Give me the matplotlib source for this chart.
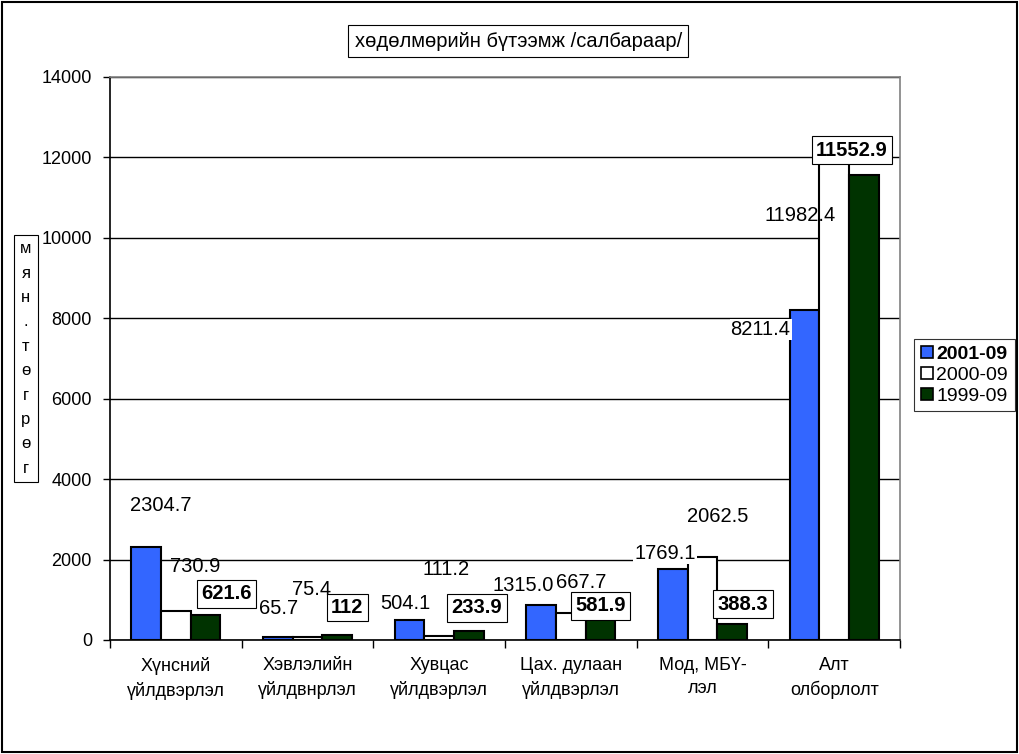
import matplotlib
matplotlib.use('Agg')
import matplotlib.pyplot as plt
import numpy as np
from matplotlib.patches import Rectangle, Patch

plt.rcParams['font.family'] = ['Liberation Sans', 'DejaVu Sans']

# Data
categories = ["Хүнсний\nүйлдвэрлэл", "Хэвлэлийн\nүйлдвнрлэл", "Хувцас\nүйлдвэрлэл",
              "Цах. дулаан\nүйлдвэрлэл", "Мод, МБҮ-\nлэл", "Алт\nолборлолт"]
series_names = ["2001-09", "2000-09", "1999-09"]
vals_2001 = [2304.7, 65.7, 504.1, 880.0, 1769.1, 8211.4]
vals_2000 = [730.9, 75.4, 111.2, 667.7, 2062.5, 11982.4]
vals_1999 = [621.6, 112.0, 233.9, 581.9, 388.3, 11552.9]
# text shown in the data labels
labels_2001 = ["2304.7", "65.7", "504.1", "1315.0", "1769.1", "8211.4"]
labels_2000 = ["730.9", "75.4", "111.2", "667.7", "2062.5", "11982.4"]
labels_1999 = ["621.6", "112", "233.9", "581.9", "388.3", "11552.9"]

# label offsets (pixels) from bar top centre, as the labels were dragged in the original
offs_2001 = [(14, 42), (1, 29), (-4, 16), (-18, 19), (-8, 15), (-44, -20)]
offs_2000 = [(19, 44), (4, 47), (7, 66), (10, 31), (15, 41), (-34, -57)]
offs_1999 = [(21, 21), (10, 28), (8, 23), (0, 11), (11, 20), (-12, 25)]

colors = ['#3366FF', '#FFFFFF', '#003300']

fig = plt.figure(figsize=(10.19, 7.54), dpi=100)
ax = fig.add_axes([0.108, 0.1512, 0.7753, 0.7467])

x = np.arange(len(categories))
w = 0.225
all_vals = [vals_2001, vals_2000, vals_1999]
all_labels = [labels_2001, labels_2000, labels_1999]
all_offs = [offs_2001, offs_2000, offs_1999]

for k in range(3):
    xs = x + (k - 1) * w
    ax.bar(xs, all_vals[k], width=w, color=colors[k], edgecolor='black',
           linewidth=1.5, zorder=3)
    for i in range(len(categories)):
        dx, dy = all_offs[k][i]
        if k == 2:
            kw = dict(fontweight='bold',
                      bbox=dict(boxstyle='square,pad=0.22', facecolor='white',
                                edgecolor='black', linewidth=0.8))
        elif k == 0:
            kw = dict(bbox=dict(boxstyle='square,pad=0.05', facecolor='white',
                                edgecolor='none'))
        else:
            kw = {}
        ax.annotate(all_labels[k][i], xy=(xs[i], all_vals[k][i]),
                    xytext=(dx, dy), textcoords='offset pixels',
                    ha='center', va='center', fontsize=14.5, zorder=5, **kw)

ax.set_xlim(-0.5, len(categories) - 0.5)
ax.set_ylim(0, 14000)
ax.set_yticks(np.arange(0, 14001, 2000))
ax.tick_params(axis='y', labelsize=13, length=5, width=1, direction='out', pad=8)
ax.set_xticks(x)
ax.set_xticklabels(categories, fontsize=13, linespacing=1.5)
ax.tick_params(axis='x', length=0, pad=12)
ax.set_xticks(np.arange(-0.5, len(categories)), minor=True)
ax.tick_params(axis='x', which='minor', length=6, width=1)
ax.grid(axis='y', color='black', linewidth=1, zorder=0)
ax.set_axisbelow(True)
for s in ['top', 'right']:
    ax.spines[s].set_color('#808080')
    ax.spines[s].set_linewidth(1.2)
for s in ['left', 'bottom']:
    ax.spines[s].set_color('black')
    ax.spines[s].set_linewidth(1.2)

# title box
fig.text(0.5085, 0.9456, "хөдөлмөрийн бүтээмж /салбараар/", ha='center', va='center',
         fontsize=14.5, bbox=dict(boxstyle='square,pad=0.3', facecolor='white',
                                  edgecolor='black', linewidth=0.8))

# vertical unit label
unit = "мян.төгрөг"
fig.text(0.0255, 0.5245, "\n".join(unit), ha='center', va='center', fontsize=12,
         linespacing=1.78, bbox=dict(boxstyle='square,pad=0.4', facecolor='white',
                                     edgecolor='black', linewidth=0.8))

# legend
handles = [Patch(facecolor=c, edgecolor='black', linewidth=1.2) for c in colors]
leg = fig.legend(handles, series_names, loc='upper left',
                 bbox_to_anchor=(0.897, 0.5504), fontsize=14, frameon=True,
                 fancybox=False, edgecolor='black', handlelength=0.6,
                 handleheight=0.6, handletextpad=0.2, borderpad=0.35,
                 borderaxespad=0, labelspacing=0.2)
leg.get_frame().set_linewidth(0.8)
leg.get_texts()[0].set_fontweight('bold')

# outer border
fig.patches.append(Rectangle((0.002, 0.003), 0.996, 0.994, transform=fig.transFigure,
                             fill=False, edgecolor='black', linewidth=1.5))

fig.savefig('out.png', dpi=100, facecolor='white')
